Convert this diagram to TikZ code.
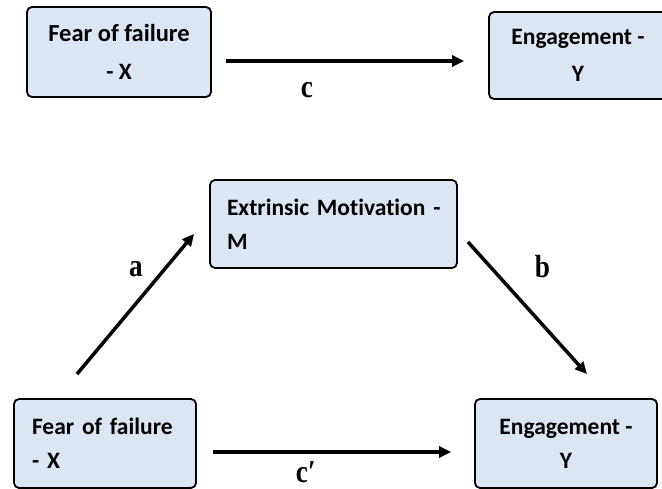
\documentclass[tikz,border=0pt]{standalone}
\usepackage{fontspec}
\setmainfont{Carlito}[Ligatures=NoCommon]
\newfontfamily\labelfont{Liberation Serif}
\usetikzlibrary{arrows.meta}
\definecolor{boxfill}{RGB}{220,230,242}
\tikzset{
	flowchartnode/.style = {rectangle, rounded corners=5pt, draw=black, line width=1.8pt, fill=boxfill, font=\bfseries\fontsize{23.5}{34}\selectfont},
	varcenter/.style = {flowchartnode, align=center},
	varleft/.style = {flowchartnode, align=left, inner xsep=17pt},
	line/.style = {draw, line width=3.5pt, -{Triangle[length=12pt,width=11pt]}},
	pathlabel/.style = {font=\labelfont\bfseries\fontsize{32}{32}\selectfont, xscale=0.85, transform shape, inner sep=0pt}
}

\begin{document}
\begin{tikzpicture}[x=1pt, y=-1pt]
		\useasboundingbox (0,0) rectangle (662,489);
		%总效应
		\node (topX) [varcenter, minimum width=184pt, minimum height=90pt] at (119,52) {\fontsize{24.5}{34}\selectfont Fear of failure\\[4pt]- X};
		\node (topY) [varcenter, minimum width=178pt, minimum height=87pt] at (578,55.5) {Engagement -\\[3pt]Y};

		%中介模型
		\node (medM) [varleft, text width=213pt, minimum height=88pt] at (333.5,224) {\mbox{Extrinsic Motivation -}\\M};
		\node (botX) [varleft, inner xsep=18pt, text width=146pt, minimum height=89pt] at (105,443.5) {\mbox{Fear of failure}\\- X};
		\node (botY) [varcenter, minimum width=182pt, minimum height=89pt] at (566,443.5) {Engagement -\\Y};

		%连接
		\path [line]([xshift=14pt,yshift=-9pt]topX.east) -- node[pathlabel, pos=0.34, yshift=-29pt] {c} ([xshift=-24pt,yshift=-5.5pt]topY.west);
		\path [line]([xshift=-28pt,yshift=24pt]botX.north) -- node[pathlabel, pos=0.75, xshift=-34pt] {a} ([xshift=-15pt,yshift=35pt]medM.south west);
		\path [line]([xshift=10pt,yshift=27pt]medM.south east) -- node[pathlabel, pos=0.19, xshift=61pt] {b} ([xshift=21pt,yshift=24pt]botY.north);
		\path [line]([xshift=16pt,yshift=-8.5pt]botX.east) -- node[pathlabel, pos=0.39, yshift=-20pt] {c′} ([xshift=-23pt,yshift=-8.5pt]botY.west);
		\end{tikzpicture}
\end{document}
